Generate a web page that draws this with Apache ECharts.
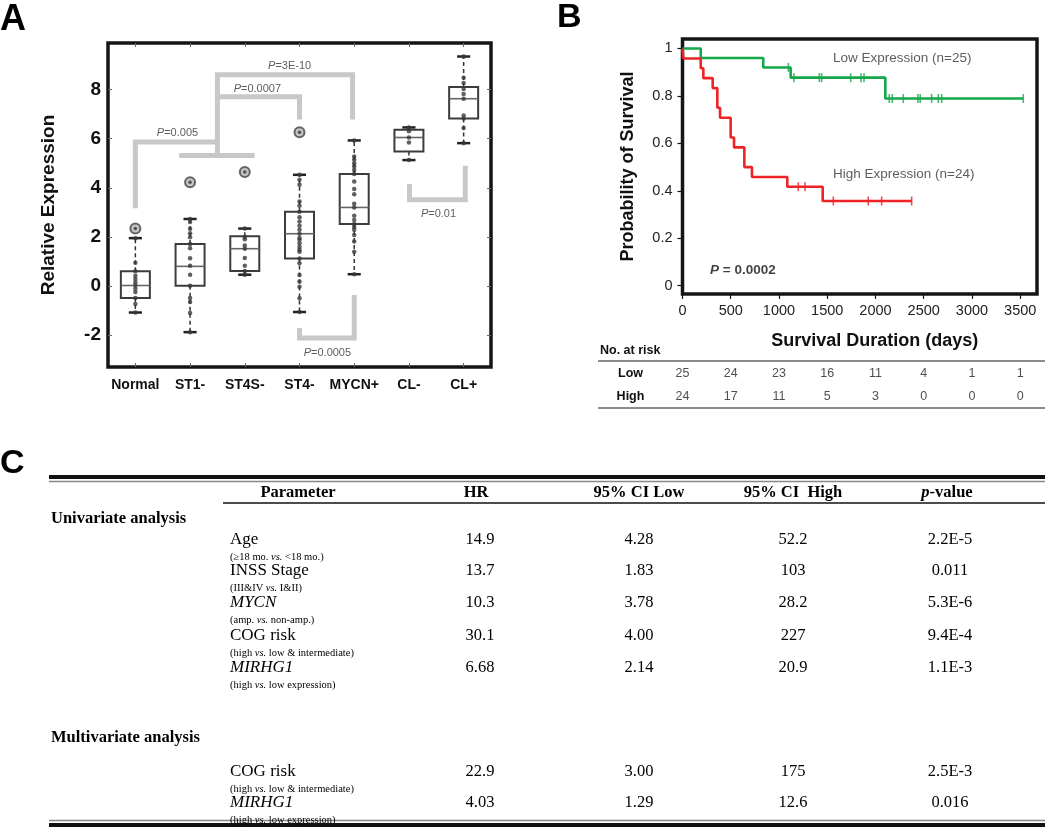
<!DOCTYPE html>
<html><head><meta charset="utf-8">
<script src="https://cdn.jsdelivr.net/npm/echarts@6/dist/echarts.min.js"></script>
<style>html,body{margin:0;padding:0;background:#fff}#c{width:1050px;height:832px}</style>
</head><body><div id="c"></div>
<script>
// ---------------- DATA ----------------
// Panel A: expression box plots
const categories = ['Normal','ST1-','ST4S-','ST4-','MYCN+','CL-','CL+'];
const boxMin    = [-1.08, -1.88, 0.46, -1.06, 0.48, 5.13, 5.82];
const boxQ1     = [-0.49,  0.01, 0.61,  1.12, 2.53, 5.48, 6.82];
const boxMedian = [ 0.02,  0.80, 1.52,  2.13, 3.20, 6.05, 7.63];
const boxQ3     = [ 0.60,  1.71, 2.03,  3.03, 4.56, 6.37, 8.11];
const boxMax    = [ 1.95,  2.73, 2.34,  4.53, 5.93, 6.46, 9.35];
const normalPts = [1.95, 0.95, 0.6, 0.42, 0.29, 0.15, 0.03, -0.1, -0.24, -0.49, -0.73, -1.08];
const st1Pts    = [2.73, 2.61, 2.33, 2.15, 1.99, 1.71, 1.54, 1.13, 0.83, 0.46, 0.01, -0.49, -0.65, -1.1, -1.88];
const st4sPts   = [2.34, 2.0, 1.9, 1.65, 1.52, 1.14, 0.83, 0.61, 0.46];
const st4Pts    = [4.53, 4.33, 4.12, 3.44, 3.27, 3.03, 2.8, 2.63, 2.45, 2.29, 2.13, 1.96, 1.88, 1.74, 1.6, 1.48, 1.4, 1.12, 0.93, 0.45, 0.18, -0.03, -0.5, -1.06];
const mycnPts   = [5.93, 5.28, 5.14, 5.0, 4.87, 4.73, 4.56, 4.26, 3.95, 3.74, 3.35, 3.2, 2.86, 2.69, 2.53, 2.4, 2.29, 2.08, 1.81, 1.4, 0.48];
const clMinusPts= [6.46, 6.3, 6.05, 5.85, 5.13];
const clPlusPts = [9.35, 8.48, 8.27, 8.03, 7.82, 7.63, 6.95, 6.82, 6.44, 5.82];
const outlierCats = ['Normal','ST1-','ST4S-','ST4-'];
const outlierVals = [2.34, 4.23, 4.64, 6.26];
const yTicksA = [-2, 0, 2, 4, 6, 8];
// significance brackets (category index, expression value)
const bracketP005   = [[0,3.17],[0,5.87],[1.5,5.87]];
const bracketGroup  = [[0.8,5.32],[2.18,5.32]];
const bracketP3E10  = [[1.5,5.32],[1.5,8.61],[3.97,8.61],[3.97,6.78]];
const bracketP0007  = [[1.5,7.71],[3,7.71],[3,6.78]];
const bracketP0005  = [[3,-1.71],[3,-2.12],[4,-2.12],[4,-0.37]];
const bracketP001   = [[5.01,4.16],[5.01,3.51],[6.03,3.51],[6.03,4.9]];
const pLabelText = ['0.005','0.0007','3E-10','0.0005','0.01'];
const pLabelX    = [0.77, 2.23, 2.82, 3.51, 5.54];
const pLabelY    = [6.24, 8.04, 8.98, -2.73, 2.94];

// Panel B: Kaplan-Meier
const lowTimes  = [0, 189, 837, 1121, 2102, 3532];
const lowSurv   = [1, 0.96, 0.92, 0.877, 0.789, 0.789];
const lowCensor = [1097, 1155, 1418, 1442, 1743, 1850, 1881, 2143, 2174, 2288, 2440, 2464, 2582, 2651, 2686, 3532];
const highTimes = [0, 8, 189, 216, 313, 361, 389, 499, 534, 641, 720, 1086, 1453, 2375];
const highSurv  = [1, 0.958, 0.917, 0.875, 0.833, 0.75, 0.708, 0.625, 0.583, 0.5, 0.458, 0.417, 0.357, 0.357];
const highCensor= [1200, 1270, 1563, 1925, 2064, 2375];
const xTicksB = [0, 500, 1000, 1500, 2000, 2500, 3000, 3500];
const yTicksB = [0, 0.2, 0.4, 0.6, 0.8, 1];
const riskGroups = ['Low','High'];
const riskDays = [0, 500, 1000, 1500, 2000, 2500, 3000, 3500];
const lowRisk  = [25, 24, 23, 16, 11, 4, 1, 1];
const highRisk = [24, 17, 11, 5, 3, 0, 0, 0];

// Panel C: Cox table
const tableHeaders = ['Parameter','HR','95% CI Low','95% CI  High','{i|p}-value'];
const sectionNames = ['Univariate analysis','Multivariate analysis'];
const params  = ['Age','INSS Stage','MYCN','COG risk','MIRHG1','COG risk','MIRHG1'];
const paramItalic = [false,false,true,false,true,false,true];
const subs    = ['(≥18 mo. vs. <18 mo.)','(III&IV vs. I&II)','(amp. vs. non-amp.)','(high vs. low & intermediate)','(high vs. low expression)','(high vs. low & intermediate)','(high vs. low expression)'];
const hrVals  = ['14.9','13.7','10.3','30.1','6.68','22.9','4.03'];
const ciLow   = ['4.28','1.83','3.78','4.00','2.14','3.00','1.29'];
const ciHigh  = ['52.2','103','28.2','227','20.9','175','12.6'];
const pVals   = ['2.2E-5','0.011','5.3E-6','9.4E-4','1.1E-3','2.5E-3','0.016'];

// ---------------- LAYOUT ----------------
const SANS = 'Liberation Sans, Arial, sans-serif';
const SERIF = 'Liberation Serif, Times New Roman, serif';
const GREEN = '#15a84a', RED = '#ee2326';
const rowY = [540, 571, 603, 636, 668, 772, 803];
const sectionY = [519, 738];
const colX = [298, 476, 639, 793, 947];

const chart = echarts.init(document.getElementById('c'), null, {renderer:'canvas', width:1050, height:832});

const groupPoints = [normalPts, st1Pts, st4sPts, st4Pts, mycnPts, clMinusPts, clPlusPts];
const survAt = (times, surv, t) => { let s = surv[0]; for (let i=0;i<times.length;i++){ if (times[i] <= t) s = surv[i]; } return s; };

const series = [];
// brackets
[bracketP005, bracketGroup, bracketP3E10, bracketP0007, bracketP0005, bracketP001].forEach(b => {
  series.push({type:'line', xAxisIndex:2, yAxisIndex:0, data:b, symbol:'none', silent:true, animation:false,
    lineStyle:{color:'#c8c8c8', width:5, cap:'butt', join:'miter'}, z:1});
});
series.push({type:'scatter', xAxisIndex:2, yAxisIndex:0, symbolSize:0, silent:true, animation:false, z:3,
  data: pLabelText.map((t,i)=>({value:[pLabelX[i], pLabelY[i]], txt:t})),
  label:{show:true, position:'inside', formatter:p=>'{i|P}{n|='+p.data.txt+'}',
    rich:{i:{fontStyle:'italic', fontSize:11, fontFamily:SANS, color:'#333'}, n:{fontSize:11, fontFamily:SANS, color:'#333'}}}});
// boxes
series.push({type:'custom', xAxisIndex:0, yAxisIndex:0, animation:false, z:2,
  data: categories.map((c,i)=>[i, boxMin[i], boxQ1[i], boxMedian[i], boxQ3[i], boxMax[i]]),
  encode:{x:0, y:[1,2,3,4,5]},
  renderItem:(params, api) => {
    const i = api.value(0);
    const pMin = api.coord([i, api.value(1)]), pQ1 = api.coord([i, api.value(2)]),
          pMed = api.coord([i, api.value(3)]), pQ3 = api.coord([i, api.value(4)]), pMax = api.coord([i, api.value(5)]);
    const step = api.size([1,0])[0];
    const bw = step*0.53, cw = step*0.24, x = pMed[0];
    const dash = {stroke:'#333', lineWidth:1.5, lineDash:[4,3]};
    return {type:'group', children:[
      {type:'line', shape:{x1:x, y1:pQ3[1], x2:x, y2:pMax[1]}, style:dash},
      {type:'line', shape:{x1:x, y1:pQ1[1], x2:x, y2:pMin[1]}, style:dash},
      {type:'line', shape:{x1:x-cw/2, y1:pMax[1], x2:x+cw/2, y2:pMax[1]}, style:{stroke:'#222', lineWidth:2.5}},
      {type:'line', shape:{x1:x-cw/2, y1:pMin[1], x2:x+cw/2, y2:pMin[1]}, style:{stroke:'#222', lineWidth:2.5}},
      {type:'rect', shape:{x:x-bw/2, y:pQ3[1], width:bw, height:pQ1[1]-pQ3[1]}, style:{fill:'rgba(255,255,255,0)', stroke:'#3c3c3c', lineWidth:2}},
      {type:'line', shape:{x1:x-bw/2, y1:pMed[1], x2:x+bw/2, y2:pMed[1]}, style:{stroke:'#666', lineWidth:1.6}}
    ]};
  }});
// dots
const dotData = [];
groupPoints.forEach((arr, i) => arr.forEach(v => dotData.push([i, v])));
series.push({type:'scatter', xAxisIndex:0, yAxisIndex:0, data:dotData, symbol:'circle', symbolSize:4.5, animation:false, z:4,
  itemStyle:{color:'#383838'}});
// outliers
series.push({type:'scatter', xAxisIndex:0, yAxisIndex:0, data:outlierCats.map((c,i)=>[c, outlierVals[i]]), symbol:'circle', symbolSize:10, animation:false, z:4,
  itemStyle:{color:'#b5b5b5', borderColor:'#444', borderWidth:2}});
series.push({type:'scatter', xAxisIndex:0, yAxisIndex:0, data:outlierCats.map((c,i)=>[c, outlierVals[i]]), symbol:'circle', symbolSize:3.5, animation:false, z:5,
  itemStyle:{color:'#333'}});

// KM curves
series.push({type:'line', xAxisIndex:3, yAxisIndex:2, data:lowTimes.map((t,i)=>[t, lowSurv[i]]), step:'end', symbol:'none', animation:false,
  lineStyle:{color:GREEN, width:2.6}});
series.push({type:'line', xAxisIndex:3, yAxisIndex:2, data:highTimes.map((t,i)=>[t, highSurv[i]]), step:'end', symbol:'none', animation:false,
  lineStyle:{color:RED, width:2.6}});
series.push({type:'scatter', xAxisIndex:3, yAxisIndex:2, data:lowCensor.map(t=>[t, survAt(lowTimes, lowSurv, t)]), symbol:'rect', symbolSize:[1.6, 9], animation:false,
  itemStyle:{color:GREEN}});
series.push({type:'scatter', xAxisIndex:3, yAxisIndex:2, data:highCensor.map(t=>[t, survAt(highTimes, highSurv, t)]), symbol:'rect', symbolSize:[1.6, 9], animation:false,
  itemStyle:{color:RED}});
// KM annotations
series.push({type:'scatter', xAxisIndex:3, yAxisIndex:2, symbolSize:0, silent:true, animation:false,
  data:[{value:[1560, 0.959], txt:'Low Expression (n=25)'}, {value:[1560, 0.47], txt:'High Expression (n=24)'}],
  label:{show:true, position:'right', distance:0, formatter:p=>p.data.txt, fontSize:13.5, fontFamily:SANS, color:'#333'}});
series.push({type:'scatter', xAxisIndex:3, yAxisIndex:2, symbolSize:0, silent:true, animation:false,
  data:[{value:[285, 0.063]}],
  label:{show:true, position:'right', distance:0, formatter:'{i|P}{n| = 0.0002}',
    rich:{i:{fontStyle:'italic', fontWeight:'bold', fontSize:13.5, fontFamily:SANS, color:'#111'}, n:{fontWeight:'bold', fontSize:13.5, fontFamily:SANS, color:'#111'}}}});
// risk table
series.push({type:'scatter', xAxisIndex:4, yAxisIndex:3, symbolSize:0, silent:true, animation:false,
  data: riskDays.map((d,i)=>[d, 0, lowRisk[i]]).concat(riskDays.map((d,i)=>[d, 1, highRisk[i]])),
  label:{show:true, position:'inside', formatter:p=>String(p.value[2]), fontSize:12.5, fontFamily:SANS, color:'#222'}});

// ---------------- TABLE GRAPHICS ----------------
const graphic = [];
const txt = (text, x, y, opts) => graphic.push({type:'text', silent:true, style:Object.assign({text, x, y, fill:'#000', fontFamily:SERIF, fontSize:16, align:'left', verticalAlign:'middle'}, opts||{})});
const hline = (x1, x2, y, w, c) => graphic.push({type:'line', silent:true, shape:{x1, y1:y, x2, y2:y}, style:{stroke:c, lineWidth:w}});

txt('A', 0, 20, {fontFamily:SANS, fontSize:36, fontWeight:'bold'});
txt('B', 557, 18, {fontFamily:SANS, fontSize:34, fontWeight:'bold'});
txt('C', 0, 464, {fontFamily:SANS, fontSize:34, fontWeight:'bold'});
txt('No. at risk', 600, 351, {fontFamily:SANS, fontSize:12.5, fontWeight:'bold', fill:'#111'});
hline(598, 1045, 361, 1.5, '#666');
hline(598, 1045, 408, 1.5, '#666');

hline(49, 1045, 477, 4, '#111');
hline(49, 1045, 481.5, 1.5, '#888');
hline(223, 1045, 503, 1.5, '#111');
hline(49, 1045, 820.5, 1.5, '#888');
hline(49, 1045, 825, 4, '#111');

tableHeaders.forEach((h, i) => txt(h, colX[i], 493, {fontSize:16.5, fontWeight:'bold', align:'center',
  rich:{i:{fontStyle:'italic', fontWeight:'bold', fontSize:16.5, fontFamily:SERIF}}}));
sectionNames.forEach((s, i) => txt(s, 51, sectionY[i], {fontSize:16.5, fontWeight:'bold'}));
params.forEach((p, i) => {
  txt(p, 230, rowY[i], {fontSize:17, fontStyle: paramItalic[i] ? 'italic' : 'normal'});
  txt(subs[i].replace('vs.', '{i|vs.}'), 230, rowY[i] + 17, {fontSize:10.5,
    rich:{i:{fontStyle:'italic', fontSize:10.5, fontFamily:SERIF}}});
  txt(hrVals[i], colX[1] + 4, rowY[i], {fontSize:16.5, align:'center'});
  txt(ciLow[i], colX[2], rowY[i], {fontSize:16.5, align:'center'});
  txt(ciHigh[i], colX[3], rowY[i], {fontSize:16.5, align:'center'});
  txt(pVals[i], colX[4] + 3, rowY[i], {fontSize:16.5, align:'center'});
});

// ---------------- OPTION ----------------
const tickIn = {show:true, inside:true, length:4, lineStyle:{color:'#666', width:1}};
const noLine = {show:false, onZero:false};
const option = {
  animation:false,
  backgroundColor:'#fff',
  grid:[
    {left:108, top:43, width:383, height:324, show:true, borderColor:'#151515', borderWidth:3.5, backgroundColor:'transparent'},
    {left:682.5, top:39, width:354.5, height:255, show:true, borderColor:'#151515', borderWidth:3.5, backgroundColor:'transparent'},
    {left:682.5, top:362, width:354.5, height:46, show:false}
  ],
  xAxis:[
    {type:'category', gridIndex:0, data:categories, position:'bottom', axisLine:noLine,
      axisTick:Object.assign({alignWithLabel:true, interval:0}, tickIn),
      axisLabel:{interval:0, margin:11, fontFamily:SANS, fontWeight:'bold', fontSize:14, color:'#111'}},
    {type:'category', gridIndex:0, data:categories, position:'top', axisLine:noLine,
      axisTick:Object.assign({alignWithLabel:true, interval:0}, tickIn), axisLabel:{show:false}},
    {type:'value', gridIndex:0, min:-0.5, max:6.5, show:false, axisLine:noLine},
    {type:'value', gridIndex:1, min:0, max:3674, axisLine:noLine, splitLine:{show:false},
      axisTick:{show:true, length:5, customValues:xTicksB, lineStyle:{color:'#111', width:1.2}},
      axisLabel:{customValues:xTicksB, margin:9, fontFamily:SANS, fontSize:14.5, color:'#222', formatter:v=>String(v)},
      name:'Survival Duration (days)', nameLocation:'middle', nameGap:38,
      nameTextStyle:{fontFamily:SANS, fontWeight:'bold', fontSize:18, color:'#111', padding:[0,0,0,30]}},
    {type:'value', gridIndex:2, min:0, max:3674, show:false, axisLine:noLine}
  ],
  yAxis:[
    {type:'value', gridIndex:0, min:-3.3, max:9.9, axisLine:noLine, splitLine:{show:false},
      axisTick:Object.assign({customValues:yTicksA}, tickIn),
      axisLabel:{customValues:yTicksA, margin:7, fontFamily:SANS, fontWeight:'bold', fontSize:19, color:'#111'},
      name:'Relative Expression', nameLocation:'middle', nameGap:50,
      nameTextStyle:{fontFamily:SANS, fontWeight:'bold', fontSize:19, color:'#111'}},
    {type:'value', gridIndex:0, min:-3.3, max:9.9, position:'right', axisLine:noLine, splitLine:{show:false},
      axisTick:Object.assign({customValues:yTicksA}, tickIn), axisLabel:{show:false}},
    {type:'value', gridIndex:1, min:-0.035, max:1.04, axisLine:noLine, splitLine:{show:false},
      axisTick:{show:true, length:5, customValues:yTicksB, lineStyle:{color:'#111', width:1.2}},
      axisLabel:{customValues:yTicksB, margin:10, fontFamily:SANS, fontSize:14.5, color:'#222',
        formatter:v => (v === 0 || v === 1) ? String(v) : v.toFixed(1)},
      name:'Probability of Survival', nameLocation:'middle', nameGap:45,
      nameTextStyle:{fontFamily:SANS, fontWeight:'bold', fontSize:18, color:'#111'}},
    {type:'category', gridIndex:2, data:riskGroups, inverse:true, axisLine:noLine, axisTick:{show:false},
      axisLabel:{margin:52, align:'center', fontFamily:SANS, fontWeight:'bold', fontSize:12.5, color:'#111'}}
  ],
  series,
  graphic
};
chart.setOption(option);
</script></body></html>
